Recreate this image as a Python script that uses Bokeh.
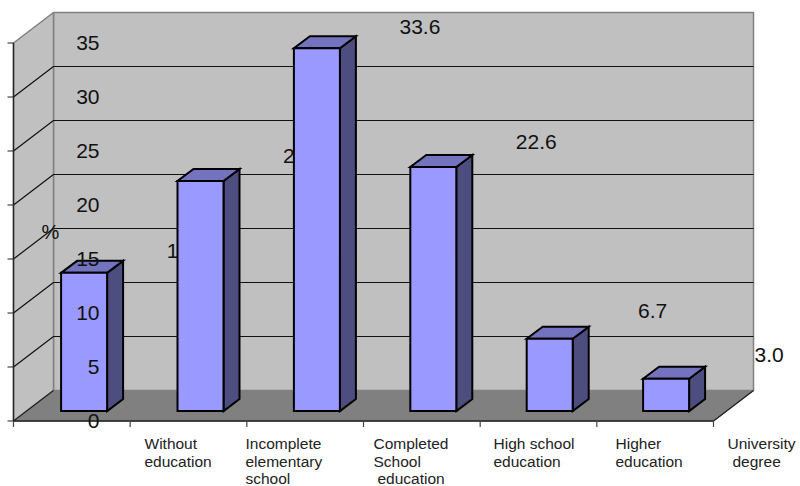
from bokeh.plotting import figure
from bokeh.models import ColumnDataSource, Range1d
from bokeh.core.properties import value
from bokeh.embed import file_html
from bokeh.resources import INLINE

# Share of respondents by schooling level, in percent
categories = [
    ["Without", "education"],
    ["Incomplete", "elementary", "school"],
    ["Completed", "School", "education"],
    ["High school", "education"],
    ["Higher", "education"],
    ["University", "degree"],
]
percent = [12.8, 21.3, 33.6, 22.6, 6.7, 3.0]
percent_labels = ["12.8", "21.3", "33.6", "22.6", "6.7", "3.0"]
axis_ticks = [0, 5, 10, 15, 20, 25, 30, 35]

# Layout of the oblique box, in pixels
W, H = 800, 486
PX_PER_UNIT = 10.8
BASE_Y = 410.6          # pixel row of value 0 on the bar fronts
FIRST_BAR_X = 83.6
BAR_STEP = 116.4
BAR_W = 46.0
DEPTH_X, DEPTH_Y = 16.0, 12.0
FRONT_L, FRONT_R = 13.0, 713.0
BACK_L, BACK_R = 53.0, 753.0
FRONT_Y, BACK_Y = 420.5, 390.0
LABEL_DX = 103.0
LABEL_RISE = [22, 25, 21, 25, 28, 24]
TEXT_FONT = value("Liberation Sans")

p = figure(width=W, height=H, output_backend="svg", toolbar_location=None,
           x_axis_type=None, y_axis_type=None,
           x_range=Range1d(0, W),
           y_range=Range1d((BASE_Y - H) / PX_PER_UNIT, BASE_Y / PX_PER_UNIT),
           min_border=0, outline_line_color=None, background_fill_color="white")
p.grid.visible = False


def vy(pixel_row):
    """Value-axis coordinate of a pixel row."""
    return (BASE_Y - pixel_row) / PX_PER_UNIT


# Walls and floor
top_back = BACK_Y - 35 * PX_PER_UNIT
top_front = FRONT_Y - 35 * PX_PER_UNIT
p.patch([BACK_L, BACK_R, BACK_R, BACK_L], [vy(top_back), vy(top_back), vy(BACK_Y), vy(BACK_Y)],
        fill_color="#C0C0C0", line_color="#808080", line_width=1.5)
p.patch([FRONT_L, BACK_L, BACK_L, FRONT_L], [vy(top_front), vy(top_back), vy(BACK_Y), vy(FRONT_Y)],
        fill_color="#C0C0C0", line_color="#808080", line_width=1.5)
p.patch([FRONT_L, BACK_L, BACK_R, FRONT_R], [vy(FRONT_Y), vy(BACK_Y), vy(BACK_Y), vy(FRONT_Y)],
        fill_color="#808080", line_color="#808080", line_width=1)

# Gridlines run along the back wall and down the side wall
grid_xs, grid_ys = [], []
for t in axis_ticks[1:-1]:
    back = BACK_Y - t * PX_PER_UNIT
    front = FRONT_Y - t * PX_PER_UNIT
    grid_xs.append([FRONT_L, BACK_L, BACK_R])
    grid_ys.append([vy(front), vy(back), vy(back)])
p.multi_line(grid_xs, grid_ys, line_color="#111111", line_width=1.2)

# Axis lines and tick marks
p.line([FRONT_L, FRONT_L, FRONT_R, BACK_R],
       [vy(top_front), vy(FRONT_Y), vy(FRONT_Y), vy(BACK_Y)], line_color="#222222", line_width=1.4)
p.line([FRONT_L, BACK_L], [vy(FRONT_Y), vy(BACK_Y)], line_color="#222222", line_width=1.2)
p.segment([7.0] * len(axis_ticks), [vy(FRONT_Y - t * PX_PER_UNIT) for t in axis_ticks],
          [FRONT_L] * len(axis_ticks), [vy(FRONT_Y - t * PX_PER_UNIT) for t in axis_ticks],
          line_color="#222222", line_width=1.2)
cat_edges = [FRONT_L + i * (FRONT_R - FRONT_L) / len(percent) for i in range(len(percent) + 1)]
p.segment(cat_edges, [vy(FRONT_Y)] * len(cat_edges), cat_edges, [vy(FRONT_Y + 6)] * len(cat_edges),
          line_color="#444444", line_width=1.2)

# Value labels sit behind the bars
centers = [FIRST_BAR_X + i * BAR_STEP for i in range(len(percent))]
p.text([c + LABEL_DX for c in centers],
       [v + r / PX_PER_UNIT for v, r in zip(percent, LABEL_RISE)],
       text=percent_labels, text_font=TEXT_FONT, text_font_size="21px", text_color="#111111",
       text_align="center", text_baseline="middle")

# Bars: front, top and side faces
dy = DEPTH_Y / PX_PER_UNIT
fronts_x, fronts_y, tops_x, tops_y, sides_x, sides_y = [], [], [], [], [], []
for c, v in zip(centers, percent):
    l, r = c - BAR_W / 2, c + BAR_W / 2
    fronts_x.append([l, r, r, l])
    fronts_y.append([0, 0, v, v])
    tops_x.append([l, r, r + DEPTH_X, l + DEPTH_X])
    tops_y.append([v, v, v + dy, v + dy])
    sides_x.append([r, r + DEPTH_X, r + DEPTH_X, r])
    sides_y.append([0, dy, v + dy, v])
outline = dict(line_color="black", line_width=2, line_join="miter")
p.patches(sides_x, sides_y, fill_color="#4D4D80", **outline)
p.patches(tops_x, tops_y, fill_color="#7373BF", **outline)
p.patches(fronts_x, fronts_y, fill_color="#9999FF", **outline)

# Value-axis numbers overlap the first bar
source = ColumnDataSource(dict(x=[99.0] * len(axis_ticks),
                               y=[vy(FRONT_Y - t * PX_PER_UNIT) for t in axis_ticks],
                               text=[str(t) for t in axis_ticks]))
p.text("x", "y", text="text", source=source, text_font=TEXT_FONT, text_font_size="21px",
       text_color="#111111", text_align="right", text_baseline="middle")
p.text([41.0], [vy(231)], text=["%"], text_font=TEXT_FONT, text_font_size="20px",
       text_color="#111111", text_align="left", text_baseline="middle")

# Category names, one text per line; a few lines are indented slightly
cat_x = [144.0, 245.0, 373.0, 493.0, 615.0, 727.0]
LINE_INDENT = {(2, 2): 4.0, (5, 1): 5.0}
LINE_ROWS = [443.0, 461.0, 478.0]
xs, ys, texts = [], [], []
for i, (x, lines) in enumerate(zip(cat_x, categories)):
    for j, (row, line) in enumerate(zip(LINE_ROWS, lines)):
        xs.append(x + LINE_INDENT.get((i, j), 0.0))
        ys.append(vy(row))
        texts.append(line)
p.text(xs, ys, text=texts, text_font=TEXT_FONT, text_font_size="15.5px", text_color="#222222",
       text_align="left", text_baseline="middle")

open("out.html", "w").write(file_html(p, INLINE))
